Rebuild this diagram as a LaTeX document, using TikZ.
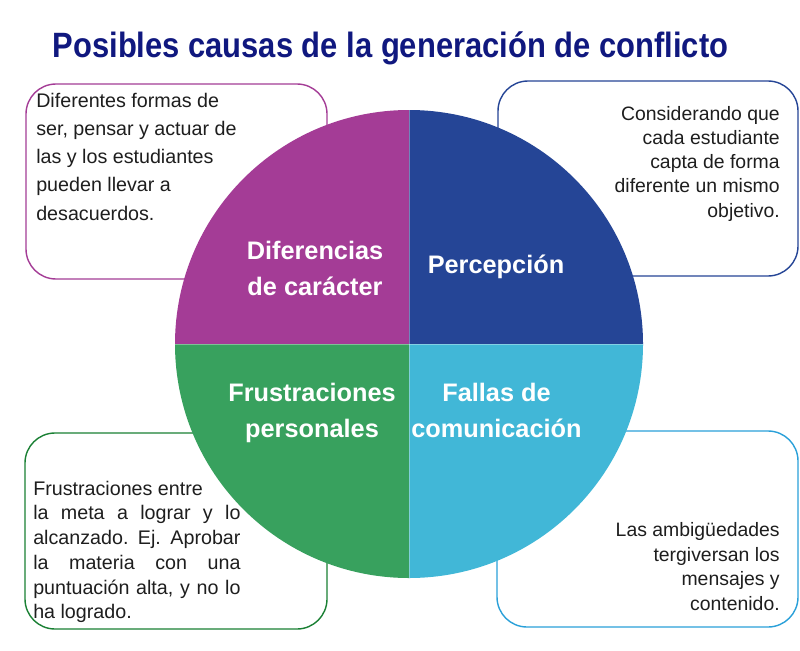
\documentclass[tikz,border=0pt]{standalone}
\usepackage{fontspec}
\setmainfont{Liberation Sans}
\newfontfamily\titlefont[FakeStretch=0.88]{Liberation Sans}
\definecolor{cpurple}{HTML}{A43C96}
\definecolor{cdblue}{HTML}{254596}
\definecolor{clblue}{HTML}{41B7D7}
\definecolor{cgreen}{HTML}{38A15E}
\definecolor{cgreenline}{HTML}{1A8034}
\definecolor{clblueline}{HTML}{2AA0D9}
\definecolor{ctitle}{HTML}{10187F}
\definecolor{ctext}{HTML}{1E1E1E}
\begin{document}
\begin{tikzpicture}[x=0.025cm,y=-0.025cm,
  infobox/.style={rounded corners=0.75cm, line width=1pt, fill=white},
  bodytext/.style={inner sep=0pt, text=ctext, font=\fontsize{14}{20}\selectfont},
  label/.style={inner sep=0pt, text=white, align=center, font=\fontsize{18}{26}\selectfont\bfseries}]
\useasboundingbox (0,0) rectangle (800,650);
\fill[white] (0,0) rectangle (800,650);
% title
\node[anchor=base, text=ctitle, inner sep=0pt, font=\titlefont\fontsize{25}{30}\selectfont\bfseries] (title) at (390.5,57.3) {Posibles causas de la generación de conflicto};
% boxes
\draw[infobox, draw=cpurple] (26,84) rectangle (327,279);
\draw[infobox, draw=cdblue] (498,81) rectangle (798,276);
\draw[infobox, draw=cgreenline] (25,433) rectangle (327,629);
\draw[infobox, draw=clblueline] (497,431) rectangle (798,627);
% circle
\coordinate (c) at (409,344);
\fill[cpurple] (c) -- ++(-234,0) arc[start angle=180, end angle=270, radius=234] -- cycle;
\fill[cdblue] (c) -- ++(0,-234) arc[start angle=270, end angle=360, radius=234] -- cycle;
\fill[clblue] (c) -- ++(234,0) arc[start angle=0, end angle=90, radius=234] -- cycle;
\fill[cgreen] (c) -- ++(0,234) arc[start angle=90, end angle=180, radius=234] -- cycle;
\draw[white, opacity=0.35, line width=0.5pt] (c) ++(-234,0) -- ++(468,0);
\draw[white, opacity=0.35, line width=0.5pt] (c) ++(0,-234) -- ++(0,468);
% circle labels
\node[label, anchor=north] (l1) at (315,240.8) {Diferencias\\de carácter};
\node[label, anchor=base] (l2) at (496,273.3) {Percepción};
\node[label, anchor=north] (l3) at (312,382.5) {Frustraciones\\personales};
\node[label, anchor=north] (l4) at (496.5,382.5) {Fallas de\\comunicación};
% box texts
\node[bodytext, anchor=north west, align=left] (t1) at (36,93) {Diferentes formas de\\ser, pensar y actuar de\\las y los estudiantes\\pueden llevar a\\desacuerdos.};
\node[bodytext, anchor=north east, align=right, font=\fontsize{13.8}{17.2}\selectfont] (t2) at (780,106) {Considerando que\\cada estudiante\\capta de forma\\diferente un mismo\\objetivo.};
\node[bodytext, anchor=north west, align=left, font=\fontsize{14}{17.6}\selectfont] (t3) at (33,480.6) {Frustraciones entre\\\makebox[5.18cm][s]{la meta a lograr y lo}\\\makebox[5.18cm][s]{alcanzado. Ej. Aprobar}\\\makebox[5.18cm][s]{la materia con una}\\\makebox[5.18cm][s]{puntuación alta, y no lo}\\ha logrado.};
\node[bodytext, anchor=north east, align=right, font=\fontsize{13.8}{17.4}\selectfont] (t4) at (780,522.5) {Las ambigüedades\\tergiversan los\\mensajes y\\contenido.};
\end{tikzpicture}
\end{document}
